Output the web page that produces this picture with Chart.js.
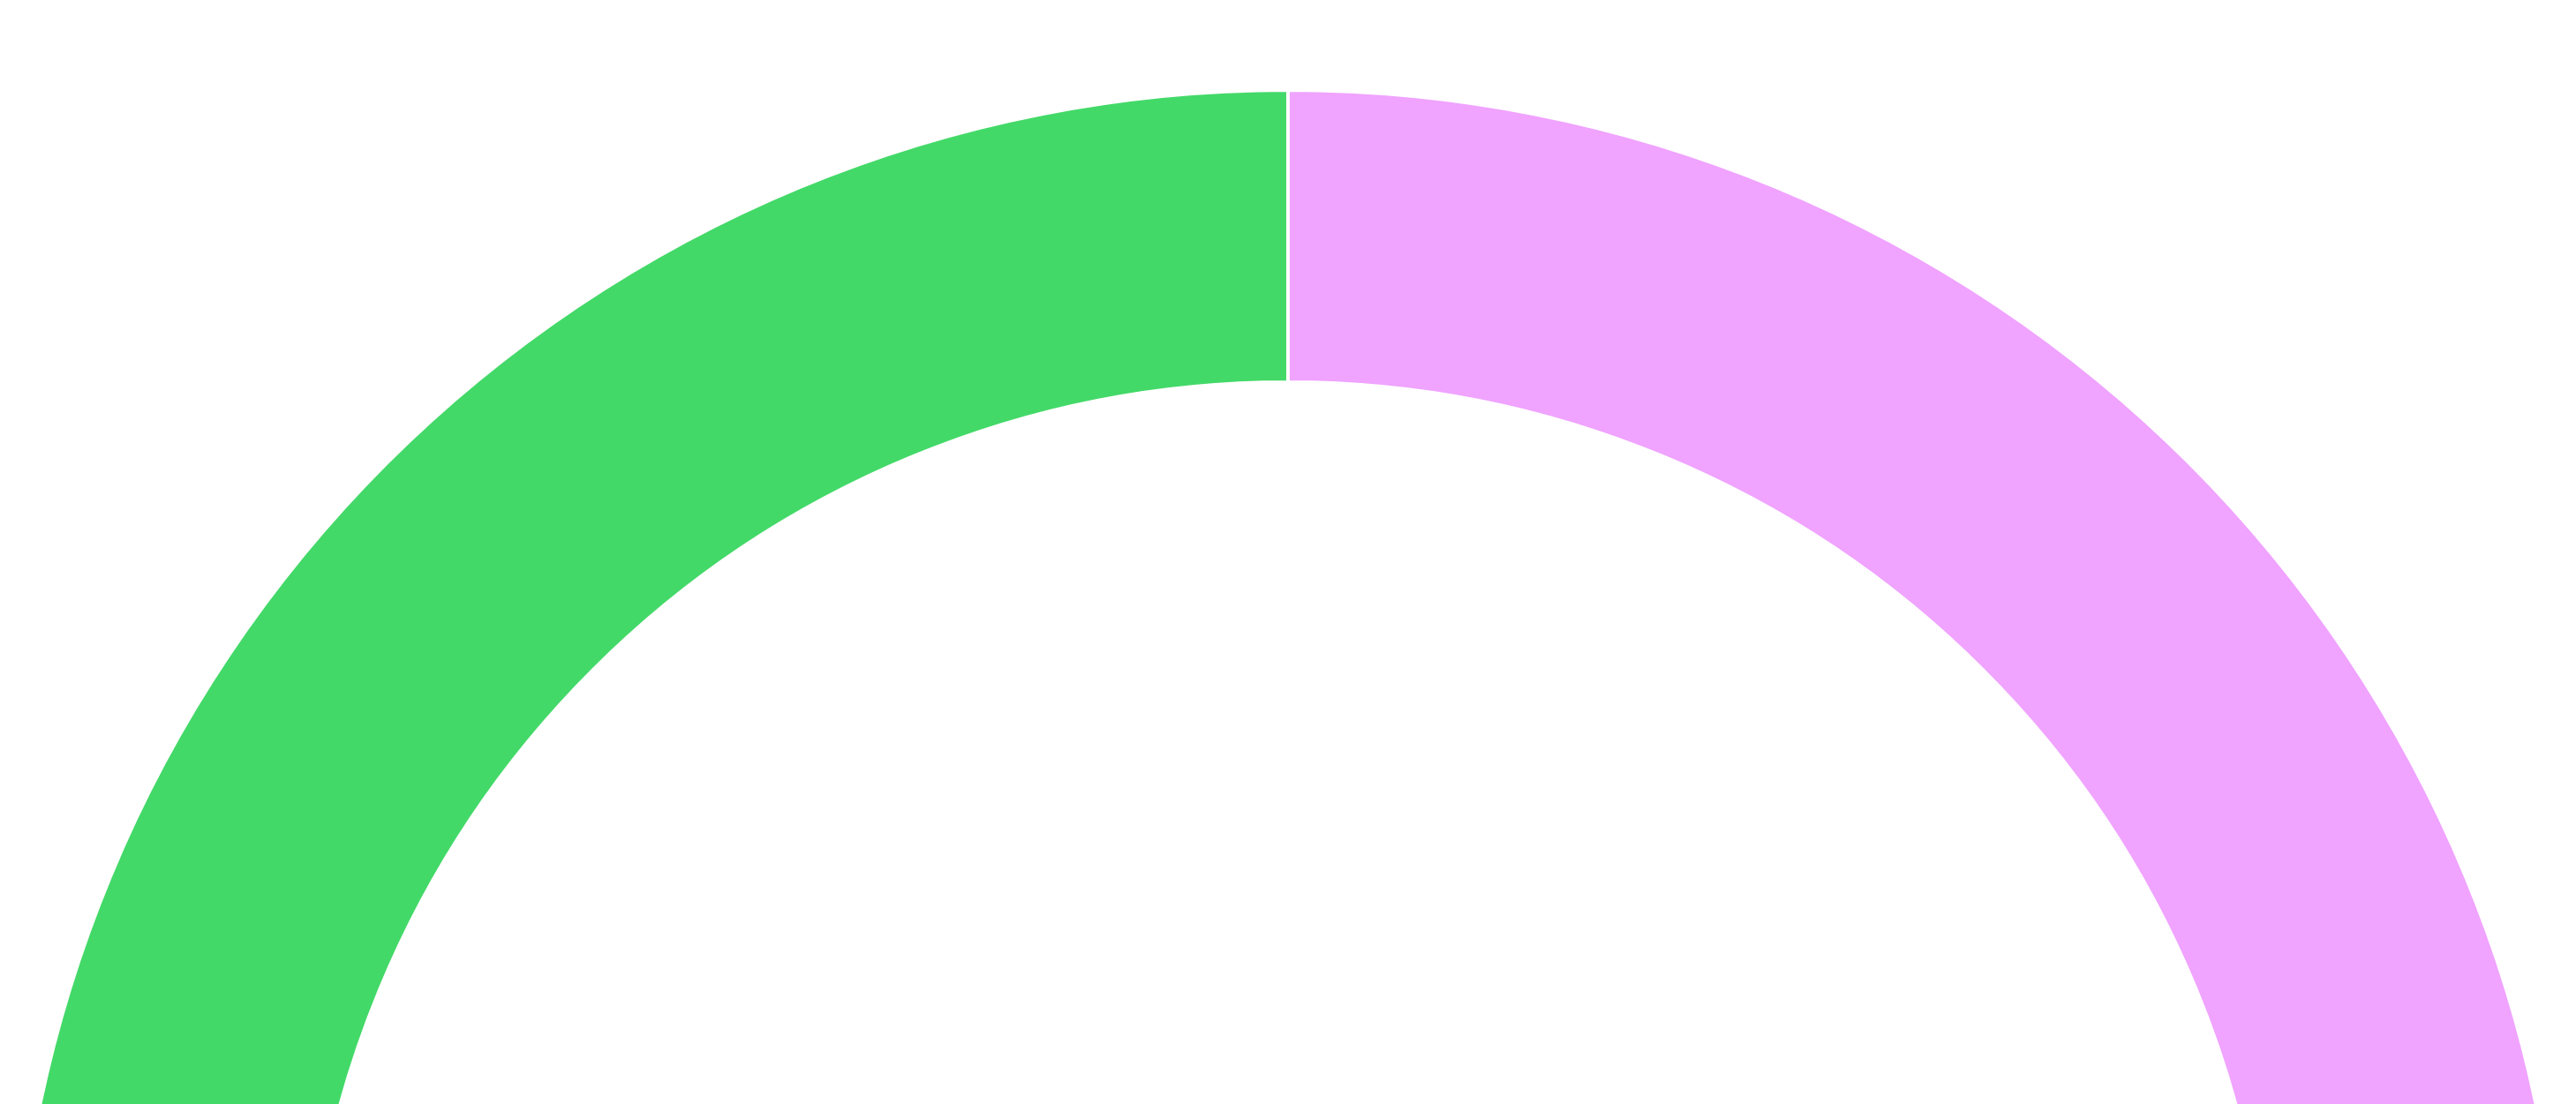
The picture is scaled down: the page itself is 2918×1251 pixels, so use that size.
<!DOCTYPE html>
<html>
<head>
<meta charset="utf-8">
<script src="https://cdn.jsdelivr.net/npm/chart.js@4"></script>
<style>
  html, body { margin: 0; padding: 0; background: #fff; overflow: hidden; }
  #wrap { width: 2918px; height: 1251px; position: relative; }
</style>
</head>
<body>
<div id="wrap"><canvas id="chart"></canvas></div>
<script>
// two halves of the gauge, left (green) then right (pink), starting at 9 o'clock
const labels = ['Left', 'Right'];
const values = [50, 50];
const colors = ['#43D968', '#F0A3FF'];

const ctx = document.getElementById('chart').getContext('2d');
new Chart(ctx, {
  type: 'doughnut',
  data: {
    labels,
    datasets: [{
      data: values,
      backgroundColor: colors,
      borderColor: '#ffffff',
      borderWidth: 4
    }]
  },
  options: {
    responsive: true,
    maintainAspectRatio: false,
    animation: false,
    rotation: -90,
    circumference: 180,
    radius: 1444, // centre sits below the visible area, as in the original
    cutout: '77.08%',
    layout: { padding: { top: 397 } },
    plugins: {
      legend: { display: false },
      tooltip: { enabled: false }
    }
  }
});
</script>
</body>
</html>
